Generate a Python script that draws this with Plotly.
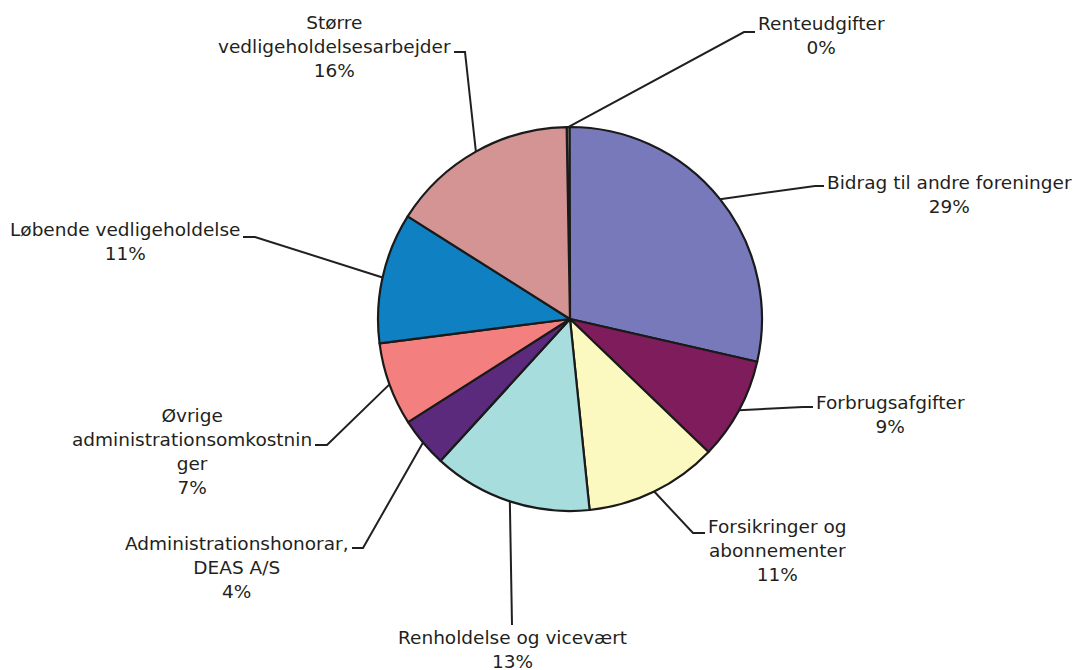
import math
import plotly.graph_objects as go

# ---- data ----
categories = ["Renteudgifter", "Bidrag til andre foreninger", "Forbrugsafgifter",
              "Forsikringer og abonnementer", "Renholdelse og vicevært",
              "Administrationshonorar, DEAS A/S", "Øvrige administrationsomkostninger",
              "Løbende vedligeholdelse", "Større vedligeholdelsesarbejder"]
values = [0.25, 28.6, 8.6, 11.2, 13.4, 4.2, 7.0, 11.0, 15.75]
label_text = ["Renteudgifter", "Bidrag til andre foreninger", "Forbrugsafgifter",
              "Forsikringer og<br>abonnementer", "Renholdelse og vicevært",
              "Administrationshonorar,<br>DEAS A/S", "Øvrige<br>administrationsomkostnin<br>ger",
              "Løbende vedligeholdelse", "Større<br>vedligeholdelsesarbejder"]

# ---- style ----
colors = ["#E3E3C6", "#7779BB", "#7F1D5C", "#FBF8C0", "#A7DDDD",
          "#5C2A7C", "#F37F7F", "#0F80C1", "#D49493"]
W, H = 1081, 670
OFF = 8  # page body margin
CX, CY, R = 570, 319, 192
ROT = -1.0  # degrees, start angle of first slice
TXT = "#231F20"
FONT = "DejaVu Sans"
FS = 18.5

# label layout (screen px): (elbow_x, elbow_y, end_x, end_y, text_x, text_y, xanchor, yanchor)
label_layout = [
    (744, 32, 755, 32, 756, 35, "left", "middle"),
    (815, 186, 824, 186, 825, 195, "left", "middle"),
    (803, 407, 813, 407, 814, 414, "left", "middle"),
    (693, 533, 705, 533, 706, 550, "left", "middle"),
    (512, 625, 512, 625, 512, 625, "center", "top"),
    (363, 548, 352, 548, 351, 567, "right", "middle"),
    (327, 445, 315, 445, 314, 451, "right", "middle"),
    (255, 237, 243, 237, 242, 241, "right", "middle"),
    (465, 52, 454, 52, 453, 46, "right", "middle"),
]

def px(x):
    return (x - OFF) / W

def py(y):
    return 1 - (y - OFF) / H

total = sum(values)
pcts = [round(v / total * 100) for v in values]

fig = go.Figure(go.Pie(
    labels=categories, values=values, sort=False, direction="clockwise", rotation=ROT,
    marker=dict(colors=colors, line=dict(color="#1A1A1A", width=2.2)),
    textinfo="none", hoverinfo="label+percent", showlegend=False,
    domain=dict(x=[px(CX - R), px(CX + R)], y=[py(CY + R), py(CY - R)]),
))

shapes = []
annotations = []
cum = 0.0
for v, name, pct, lay in zip(values, label_text, pcts, label_layout):
    mid = (cum + v / 2) / total * 2 * math.pi + math.radians(ROT)
    cum += v
    sx = CX + R * math.sin(mid)
    sy = CY - R * math.cos(mid)
    ex, ey, hx, hy, tx, ty, xa, ya = lay
    path = f"M{px(sx)},{py(sy)} L{px(ex)},{py(ey)} L{px(hx)},{py(hy)}"
    shapes.append(dict(type="path", xref="paper", yref="paper", path=path,
                       line=dict(color=TXT, width=2)))
    annotations.append(dict(x=px(tx), y=py(ty), xref="paper", yref="paper",
                            text=f"{name}<br>{pct}%", showarrow=False,
                            xanchor=xa, yanchor=ya, align="center",
                            font=dict(family=FONT, size=FS, color=TXT)))

fig.update_layout(width=W, height=H, margin=dict(l=0, r=0, t=0, b=0),
                  paper_bgcolor="white", plot_bgcolor="white",
                  shapes=shapes, annotations=annotations)
fig.write_html("out.html")
